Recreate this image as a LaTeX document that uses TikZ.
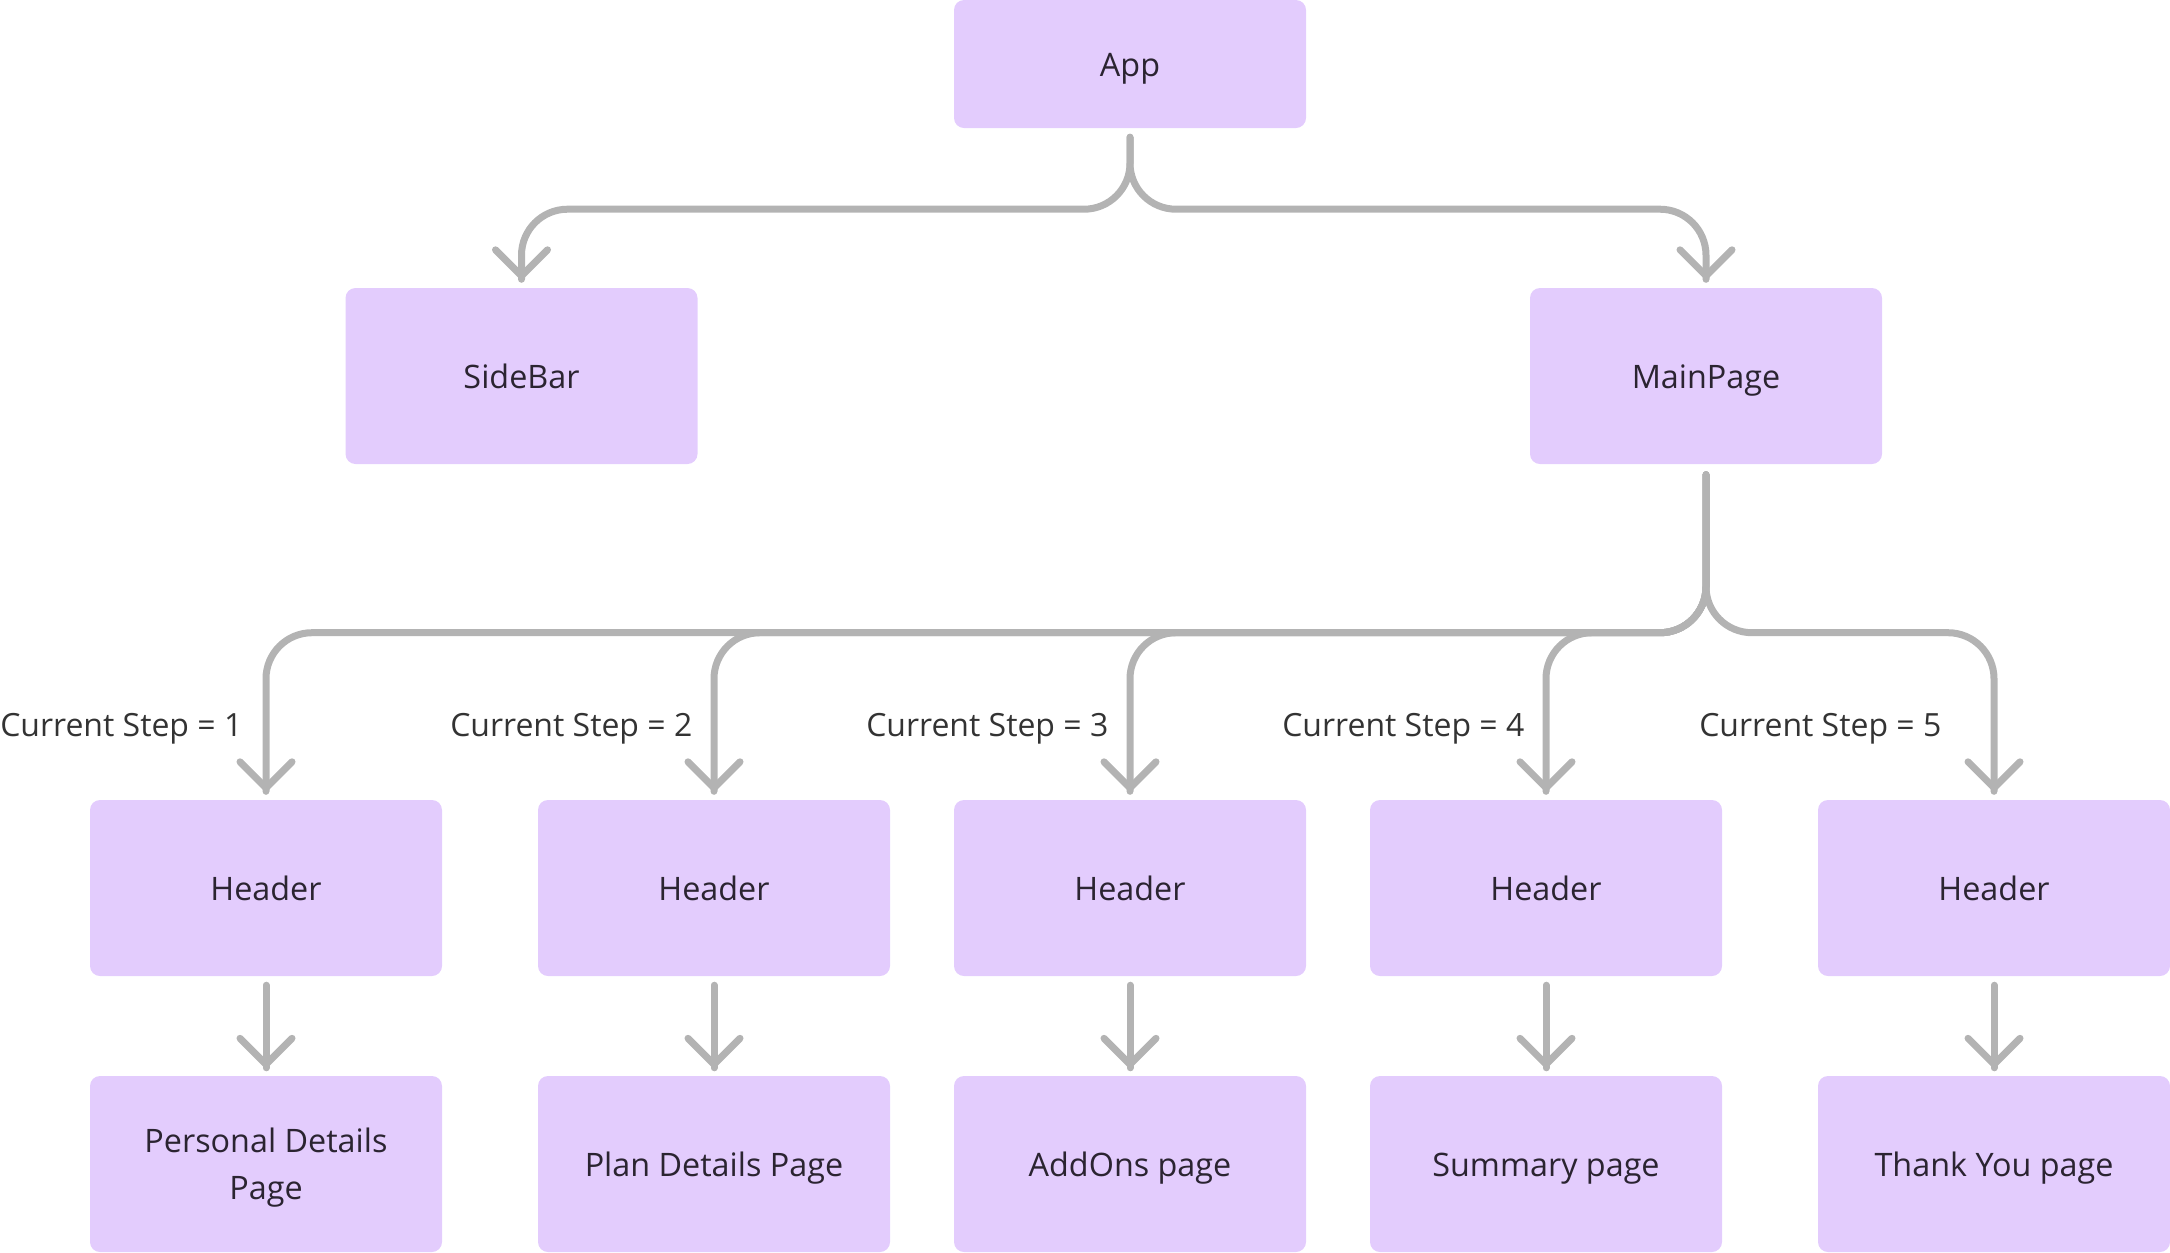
\documentclass[tikz,border=0pt]{standalone}
\usepackage{fontspec}
\setmainfont{Open Sans}
\usetikzlibrary{arrows.meta}
\usetikzlibrary{decorations.markings}
\definecolor{boxfill}{HTML}{E3CCFD}
\definecolor{boxtext}{HTML}{2B2431}
\definecolor{wiregray}{HTML}{B3B3B3}
\definecolor{labeltext}{HTML}{333333}
\tikzset{->/.style = {decoration={markings,
                                  mark=at position 1 with {\arrow{Straight Barb[length=0.26cm, width=0.52cm, round]}}},
                      postaction={decorate}}}
\tikzset{box/.style = {rectangle, rounded corners=0.1cm, fill=boxfill, text=boxtext,
                       minimum width=3.52cm, minimum height=1.76cm, align=center,
                       text height=0.72em, text depth=0pt,
                       font=\fontsize{9.2}{13.4}\selectfont},
         wire/.style = {draw=wiregray, line width=0.07cm, line cap=round, rounded corners=0.46cm},
         steplabel/.style = {anchor=base east, inner sep=0pt, text=labeltext,
                             font=\fontsize{9.1}{13.4}\selectfont}}

\begin{document}
\begin{tikzpicture}
      \useasboundingbox (0, 0) rectangle (21.7, -12.52);
      \node [box, minimum height=1.28cm] (app) at (11.3, -0.64) {App};
      \node [box] (sidebar) at (5.215, -3.76) {SideBar};
      \node [box] (mainpage) at (17.06, -3.76) {MainPage};
      \draw [wire, ->] ([yshift=-0.085cm]app.south) -- ++(0, -0.72) -| ([yshift=0.08cm]sidebar.north);
      \draw [wire, ->] ([yshift=-0.085cm]app.south) -- ++(0, -0.72) -| ([yshift=0.08cm]mainpage.north);
      \foreach \x/\txt/\gap/\th [count=\i] in {2.66/{Personal Details\\Page}/0.23/20pt, 7.14/Plan Details Page/0.21/0.72em,
                                               11.3/AddOns page/0.21/0.72em, 15.46/Summary page/0.21/0.72em,
                                               19.94/Thank You page/0.52/0.72em}
      {
        \node [box] (header\i) at (\x, -8.88) {Header};
        \node [box, text height=\th] (page\i) at (\x, -11.64) {\txt};
        \node [steplabel] (step\i) at ({\x - \gap}, -7.36) {Current Step = \i};
        \draw [wire, ->] ([yshift=-0.1cm]mainpage.south) -- ++(0, -1.58) -| ([yshift=0.08cm]header\i.north);
        \draw [wire, ->] ([yshift=-0.085cm]header\i.south) -- ([yshift=0.075cm]page\i.north);
      }
    \end{tikzpicture}
\end{document}
